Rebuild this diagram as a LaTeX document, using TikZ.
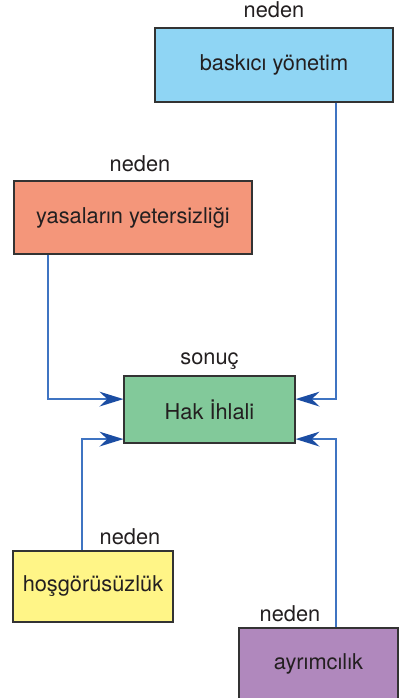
\documentclass[tikz,border=0pt]{standalone}
\usepackage{fontspec}
\setmainfont{TeX Gyre Heros}
\usetikzlibrary{arrows.meta,positioning}

\definecolor{celeste}{HTML}{8FD5F4}
\definecolor{salmone}{HTML}{F4967A}
\definecolor{verde}{HTML}{82C99A}
\definecolor{giallo}{HTML}{FFF587}
\definecolor{viola}{HTML}{B088BD}
\definecolor{linea}{HTML}{3F74C2}
\definecolor{punta}{HTML}{1B4DA3}
\definecolor{testo}{HTML}{231F20}

\tikzset{
    box/.style={draw=black!80, line width=0.8pt, inner sep=0pt, text=testo, font=\fontsize{15.5}{18}\selectfont},
    etichetta/.style={inner sep=0pt, text=testo, font=\fontsize{15.5}{18}\selectfont},
    freccia/.style={draw=linea, line width=1pt, -{Stealth[length=17pt, width=10.5pt, inset=5.5pt, color=punta]}},
}

\begin{document}
\begin{tikzpicture}
        % Area fissa della figura
        \useasboundingbox (0,0) rectangle (9.975,17.45);

        % --- Riquadri delle cause e dell'effetto ---
        \node[box, fill=celeste, minimum width=5.95cm, minimum height=1.85cm] (baskici) at (6.85,15.825) {baskıcı yönetim};
        \node[box, fill=salmone, minimum width=5.95cm, minimum height=1.825cm] (yasalar) at (3.325,12.0125) {yasaların yetersizliği};
        \node[box, fill=verde, minimum width=4.275cm, minimum height=1.675cm] (hak) at (5.2375,7.2125) {Hak İhlali};
        \node[box, fill=giallo, minimum width=4cm, minimum height=1.775cm] (hosgoru) at (2.325,2.7875) {hoşgörüsüzlük};
        \node[box, fill=viola, minimum width=3.975cm, minimum height=1.8cm] (ayrim) at (7.9625,0.85) {ayrımcılık};

        % --- Etichette sopra i riquadri ---
        \node[etichetta, above=6.4pt of baskici] (nedenA) {neden};
        \node[etichetta, above=5.7pt of yasalar, xshift=0.175cm] (nedenB) {neden};
        \node[etichetta, above=4pt of hak] (sonuc) {sonuç};
        \node[etichetta, above left=3.5pt and 0.325cm of hosgoru.north east] (nedenC) {neden};
        \node[etichetta, above right=3.5pt and 0.525cm of ayrim.north west] (nedenD) {neden};

        % --- Frecce verso Hak Ihlali ---
        \draw[freccia] ([xshift=1.55cm]baskici.south) |- ([yshift=0.26cm]hak.east);
        \draw[freccia] ([xshift=-2.125cm]yasalar.south) |- ([yshift=0.26cm]hak.west);
        \draw[freccia] ([xshift=-0.275cm]hosgoru.north) |- ([yshift=-0.74cm]hak.west);
        \draw[freccia] ([xshift=0.4375cm]ayrim.north) |- ([yshift=-0.74cm]hak.east);

    \end{tikzpicture}
\end{document}
